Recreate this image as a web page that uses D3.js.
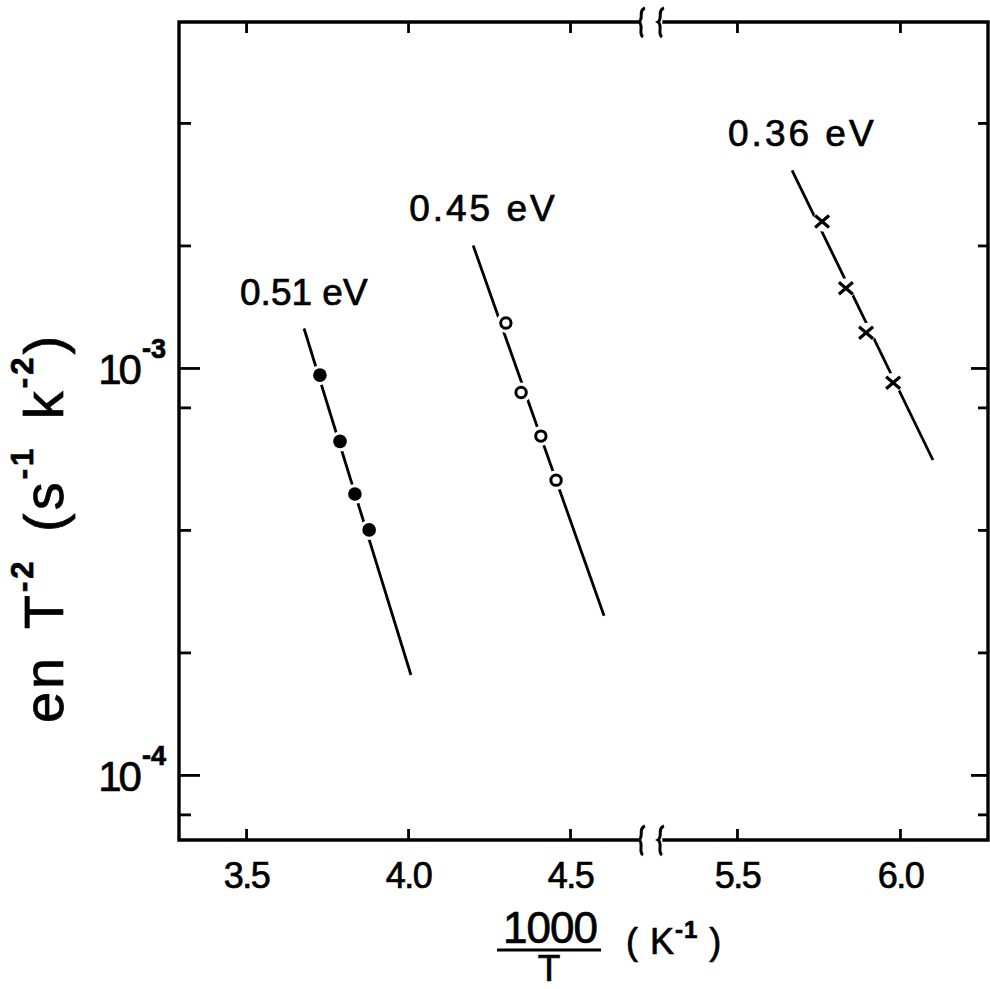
<!DOCTYPE html>
<html>
<head>
<meta charset="utf-8">
<script src="https://cdn.jsdelivr.net/npm/d3@7"></script>
<style>
  body { margin: 0; background: #fff; }
  text { font-family: "Liberation Sans", Arial, sans-serif; fill: #000; stroke: #000; stroke-width: 0.7px; }
</style>
</head>
<body>
<svg id="chart" width="990" height="989"></svg>
<script>
// Emission rate en/T^2 versus 1000/T for three deep levels
const seriesLabels = ["0.51 eV", "0.45 eV", "0.36 eV"];
const seriesMarkers = ["filled", "open", "cross"];
const seriesSegment = ["left", "left", "right"];

// measured points
const filledX = [3.728, 3.790, 3.836, 3.880];
const filledY = [9.6e-4, 6.6e-4, 4.9e-4, 4.0e-4];
const openX = [4.302, 4.349, 4.410, 4.457];
const openY = [1.29e-3, 8.7e-4, 6.8e-4, 5.3e-4];
const crossX = [5.761, 5.834, 5.896, 5.979];
const crossY = [2.29e-3, 1.57e-3, 1.22e-3, 9.2e-4];

// fitted Arrhenius lines (end points)
const fitFilledX = [3.679, 4.009];
const fitFilledY = [1.25e-3, 1.76e-4];
const fitOpenX = [4.201, 4.605];
const fitOpenY = [2.0e-3, 2.46e-4];
const fitCrossX = [5.669, 6.101];
const fitCrossY = [3.06e-3, 5.94e-4];

// axis ticks
const xTicksLeft = [3.5, 4.0, 4.5];
const xTicksRight = [5.5, 6.0];
const yMajorTicks = [1e-4, 1e-3];
const yMinorTicks = [8e-5, 2e-4, 4e-4, 8e-4, 2e-3, 4e-3];
const yTickExponents = ["-4", "-3"];

const svg = d3.select("#chart");

// plot frame geometry
const fL = 179, fR = 988, fT = 22, fB = 840;
const breakL = 637, breakR = 664;

// broken x axis: two linear pieces
const xL = d3.scaleLinear().domain([3.293, 4.716]).range([fL, 640]);
const xR = d3.scaleLinear().domain([5.267, 6.27]).range([661, fR]);
const y = d3.scaleLog().domain([6.92e-5, 7.08e-3]).range([fB, fT]);

const series = [
  { x: filledX, y: filledY, fx: fitFilledX, fy: fitFilledY },
  { x: openX, y: openY, fx: fitOpenX, fy: fitOpenY },
  { x: crossX, y: crossY, fx: fitCrossX, fy: fitCrossY }
].map((s, i) => ({ ...s, label: seriesLabels[i], marker: seriesMarkers[i],
                   xs: seriesSegment[i] === "left" ? xL : xR }));

// frame lines with breaks on top and bottom
const frame = svg.append("g").attr("stroke", "#000").attr("stroke-width", 3.4)
  .attr("fill", "none").attr("stroke-linecap", "square");
frame.append("path").attr("d", `M${breakL},${fT}H${fL}V${fB}H${breakL}`);
frame.append("path").attr("d", `M${breakR},${fT}H${fR}V${fB}H${breakR}`);

// break squiggles
function squiggle(cx, cy) {
  return `M${cx + 4},${cy - 14} C${cx - 3},${cy - 12} ${cx + 3},${cy - 3} ${cx - 2},${cy}` +
         ` C${cx + 3},${cy + 3} ${cx - 3},${cy + 12} ${cx + 2},${cy + 15}`;
}
const sq = svg.append("g").attr("stroke", "#000").attr("stroke-width", 3).attr("fill", "none");
[fT, fB].forEach(yy => {
  sq.append("path").attr("d", squiggle(641, yy));
  sq.append("path").attr("d", squiggle(660, yy));
});

// x axes (bottom with labels, top ticks only)
const fmt = d3.format(".1f");
function styleAxis(g) {
  g.select(".domain").remove();
  g.selectAll(".tick line").attr("stroke", "#000").attr("stroke-width", 2.8);
  g.selectAll(".tick text").style("font-family", '"Liberation Sans", Arial, sans-serif')
    .attr("fill", "#000");
}
[[xL, xTicksLeft], [xR, xTicksRight]].forEach(([sc, tv]) => {
  svg.append("g").attr("transform", `translate(0,${fB})`)
    .call(d3.axisBottom(sc).tickValues(tv).tickFormat(fmt).tickSizeInner(-11).tickSizeOuter(0).tickPadding(22))
    .call(styleAxis)
    .call(g => g.selectAll(".tick text").attr("font-size", 36).attr("letter-spacing", -1.5).attr("dy", "0.71em"));
  svg.append("g").attr("transform", `translate(0,${fT})`)
    .call(d3.axisTop(sc).tickValues(tv).tickFormat("").tickSizeInner(-11).tickSizeOuter(0))
    .call(styleAxis);
});

// y axes: major and minor ticks on both sides
const yAll = yMajorTicks.concat(yMinorTicks);
const isMajor = v => yMajorTicks.includes(v);
svg.append("g").attr("transform", `translate(${fL},0)`)
  .call(d3.axisLeft(y).tickValues(yAll).tickFormat("").tickSizeOuter(0))
  .call(styleAxis)
  .call(g => g.selectAll(".tick line").attr("x2", d => isMajor(d) ? 21 : 12));
svg.append("g").attr("transform", `translate(${fR},0)`)
  .call(d3.axisRight(y).tickValues(yAll).tickFormat("").tickSizeOuter(0))
  .call(styleAxis)
  .call(g => g.selectAll(".tick line").attr("x2", d => isMajor(d) ? -17 : -10));

// powers-of-ten labels
const yl = svg.append("g").selectAll("text").data(yMajorTicks).join("text")
  .attr("x", 166).attr("y", d => y(d) + 16).attr("text-anchor", "end");
yl.append("tspan").attr("font-size", 42).attr("letter-spacing", -3).text("10");
yl.append("tspan").attr("font-size", 27).attr("font-weight", "bold").attr("dx", 3).attr("dy", -26)
  .text((d, i) => yTickExponents[i]);

// fitted lines
const lineGen = (xs) => d3.line().x(d => xs(d[0])).y(d => y(d[1]));
svg.append("g").selectAll("path").data(series).join("path")
  .attr("d", s => lineGen(s.xs)(d3.zip(s.fx, s.fy)))
  .attr("fill", "none").attr("stroke", "#000").attr("stroke-width", 2.8);

// white halos so the line breaks around each marker
const pts = series.flatMap(s => d3.zip(s.x, s.y).map(p => ({ px: s.xs(p[0]), py: y(p[1]), m: s.marker })));
svg.append("g").selectAll("circle").data(pts).join("circle")
  .attr("cx", d => d.px).attr("cy", d => d.py).attr("r", 10).attr("fill", "#fff");

// markers
const mk = svg.append("g");
mk.selectAll("circle.filled").data(pts.filter(d => d.m === "filled")).join("circle")
  .attr("class", "filled").attr("cx", d => d.px).attr("cy", d => d.py).attr("r", 6.8).attr("fill", "#000");
mk.selectAll("circle.open").data(pts.filter(d => d.m === "open")).join("circle")
  .attr("class", "open").attr("cx", d => d.px).attr("cy", d => d.py).attr("r", 5.2)
  .attr("fill", "#fff").attr("stroke", "#000").attr("stroke-width", 3);
mk.selectAll("path.cross").data(pts.filter(d => d.m === "cross")).join("path")
  .attr("class", "cross")
  .attr("d", d => `M${d.px - 7},${d.py - 6}L${d.px + 7},${d.py + 6}M${d.px - 7},${d.py + 6}L${d.px + 7},${d.py - 6}`)
  .attr("stroke", "#000").attr("stroke-width", 3.2).attr("fill", "none");

// activation energy labels above each line
svg.append("g").selectAll("text").data(series).join("text")
  .attr("x", s => s.xs(s.fx[0]) - 64)
  .attr("y", s => y(s.fy[0]) - 24)
  .attr("font-size", 37)
  .attr("letter-spacing", s => s.label.includes("1") ? 0 : 3)
  .text(s => s.label);

// y axis title
const yt = svg.append("text").attr("transform", "translate(63,528) rotate(-90)")
  .attr("text-anchor", "middle").attr("font-size", 56).attr("letter-spacing", 3).attr("word-spacing", 8);
yt.append("tspan").text("en T");
yt.append("tspan").attr("font-size", 31).attr("font-weight", "bold").attr("dy", -30).text("-2");
yt.append("tspan").attr("dy", 30).text(" (s");
yt.append("tspan").attr("font-size", 31).attr("font-weight", "bold").attr("dy", -30).text("-1");
yt.append("tspan").attr("dy", 30).text(" k");
yt.append("tspan").attr("font-size", 31).attr("font-weight", "bold").attr("dy", -30).text("-2");
yt.append("tspan").attr("dy", 30).text(")");

// x axis title: 1000/T (K^-1)
const xt = svg.append("g");
xt.append("text").attr("x", 550).attr("y", 943).attr("text-anchor", "middle")
  .attr("font-size", 44).attr("letter-spacing", -1).text("1000");
xt.append("line").attr("x1", 497).attr("x2", 601).attr("y1", 950).attr("y2", 950)
  .attr("stroke", "#000").attr("stroke-width", 3);
xt.append("text").attr("x", 549).attr("y", 981).attr("text-anchor", "middle")
  .attr("font-size", 37).text("T");
const ku = xt.append("text").attr("x", 626).attr("y", 954).attr("font-size", 36).attr("letter-spacing", 1);
ku.append("tspan").text("( K");
ku.append("tspan").attr("font-size", 24).attr("font-weight", "bold").attr("dy", -16).text("-1");
ku.append("tspan").attr("dy", 16).text(" )");
</script>
</body>
</html>
